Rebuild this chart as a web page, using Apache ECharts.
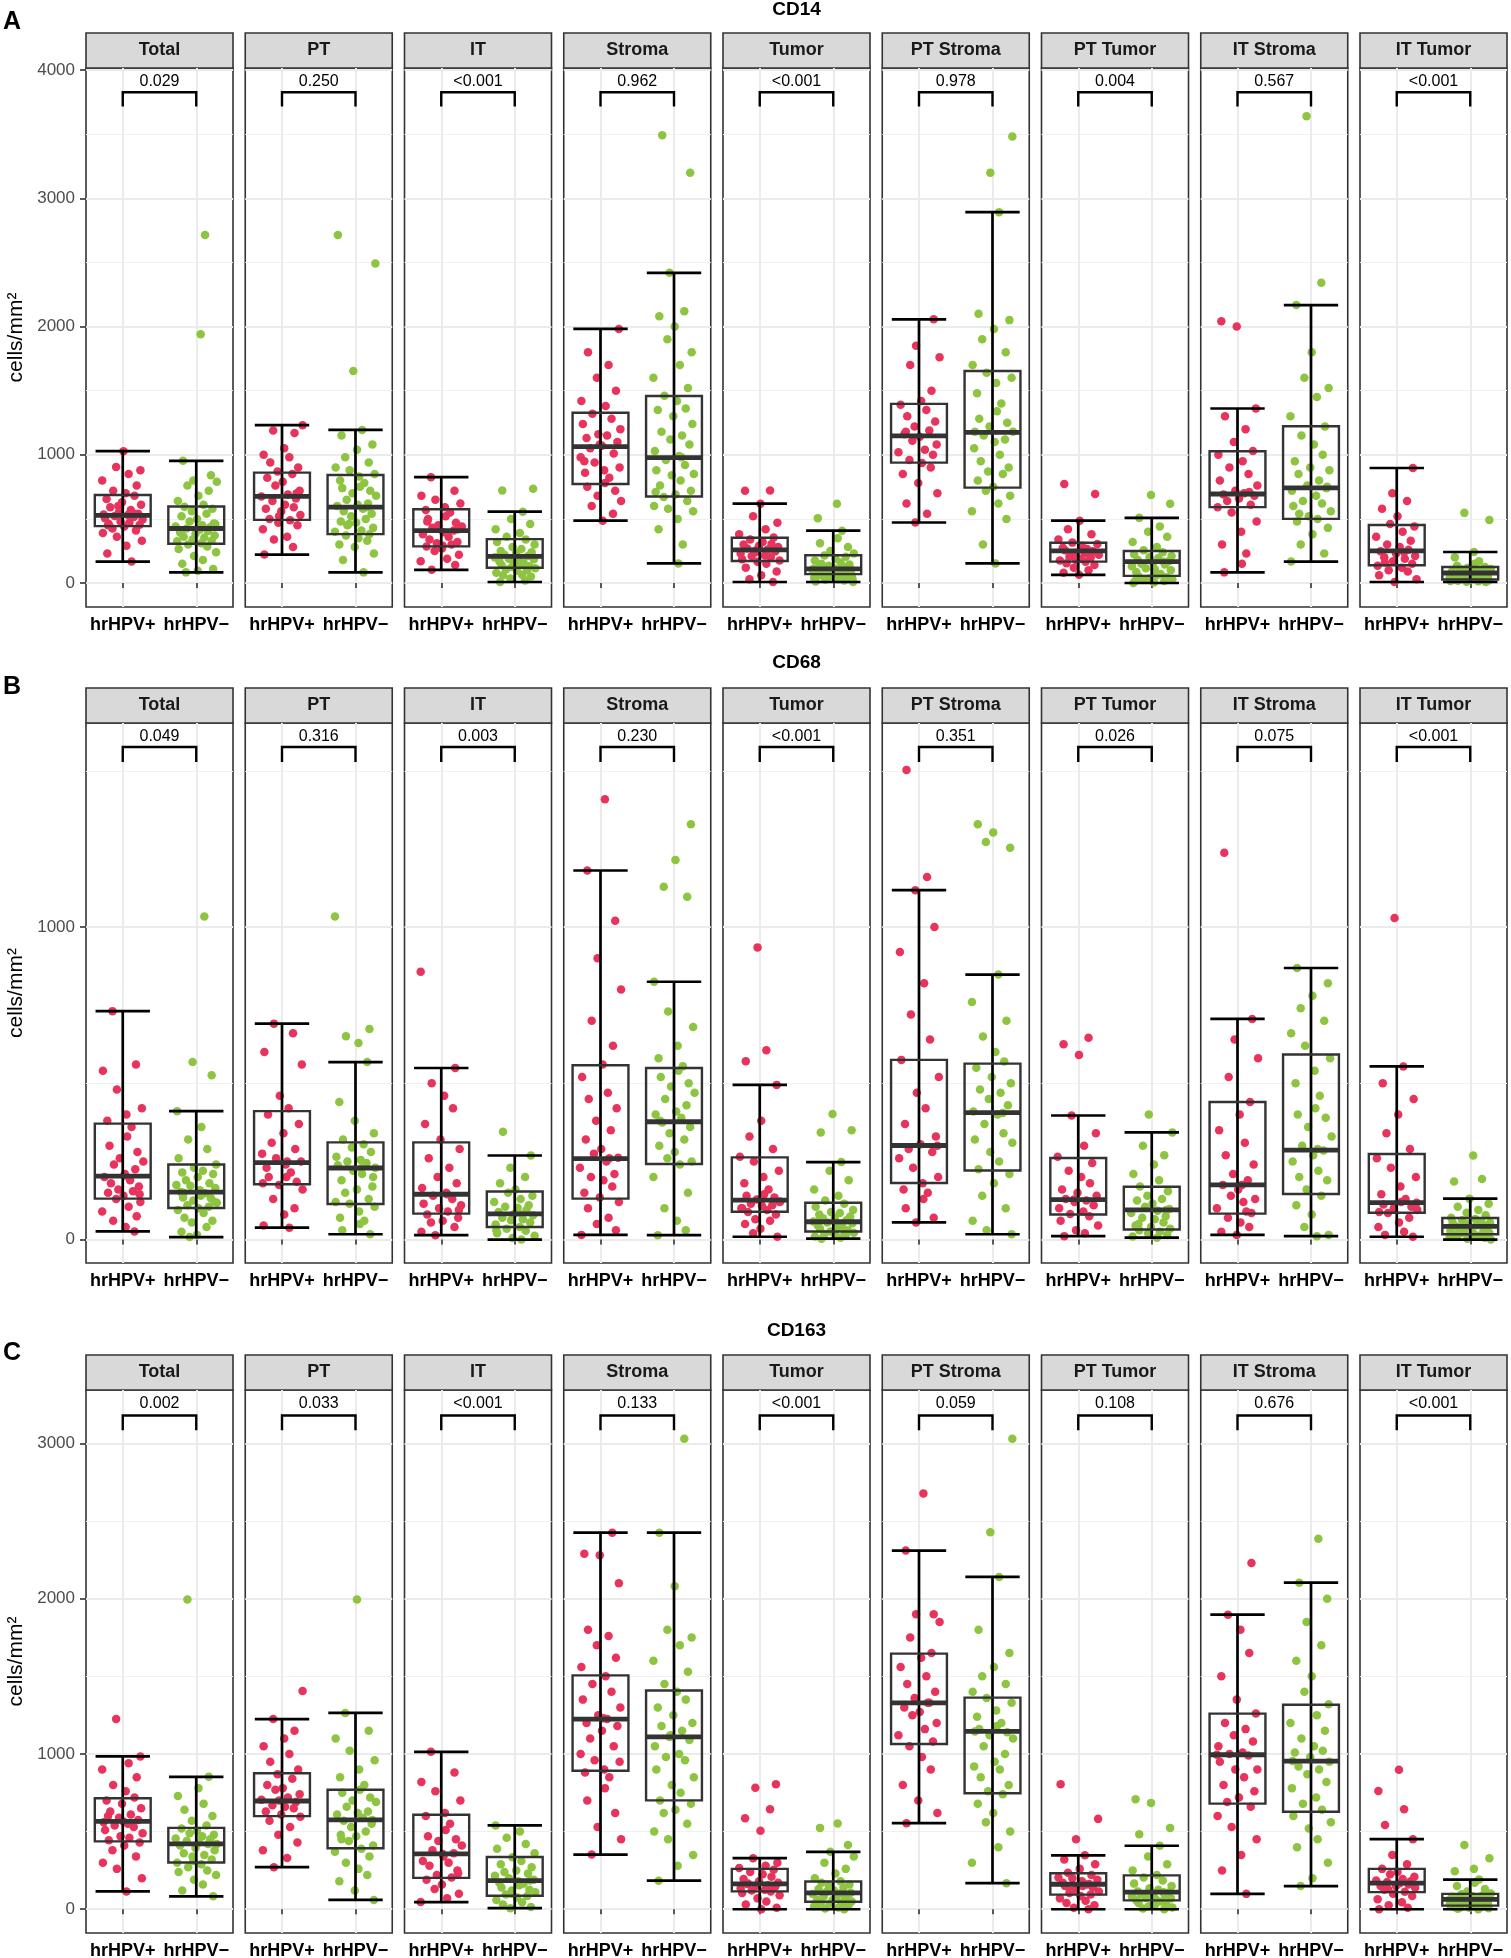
<!DOCTYPE html>
<html lang="en">
<head>
<meta charset="UTF-8">
<title>CD14 / CD68 / CD163</title>
<style>
  html, body { margin: 0; padding: 0; background: #fff; }
  #chart { width: 1511px; height: 1958px; }
</style>
</head>
<body>
<div id="chart"></div>
<script src="https://cdn.jsdelivr.net/npm/echarts@6/dist/echarts.min.js"></script>
<script>
var facets = ['Total', 'PT', 'IT', 'Stroma', 'Tumor', 'PT Stroma', 'PT Tumor', 'IT Stroma', 'IT Tumor'];
var groups = ['hrHPV+', 'hrHPV\u2212'];

// y ticks (labelled) and minor grid values
var cd14Ticks = [0, 1000, 2000, 3000, 4000];
var cd14Minor = [500, 1500, 2500, 3500];
var cd68Ticks = [0, 1000];
var cd68Minor = [500, 1500];
var cd163Ticks = [0, 1000, 2000, 3000];
var cd163Minor = [500, 1500, 2500];

// p values per facet
var cd14P = ['0.029', '0.250', '<0.001', '0.962', '<0.001', '0.978', '0.004', '0.567', '<0.001'];
var cd68P = ['0.049', '0.316', '0.003', '0.230', '<0.001', '0.351', '0.026', '0.075', '<0.001'];
var cd163P = ['0.002', '0.033', '<0.001', '0.133', '<0.001', '0.059', '0.108', '0.676', '<0.001'];

// box stats per facet: [min, q1, median, q3, max]
var cd14PosBox = [[167,444,528,686,1028],[222,492,675,861,1231],[103,286,408,575,825],[486,772,1064,1328,1981],[8,172,258,353,619],[472,939,1147,1397,2056],[64,167,250,314,486],[83,592,694,1028,1361],[8,139,250,453,897]];
var cd14NegBox = [[83,306,425,597,953],[83,381,592,842,1194],[8,119,208,342,556],[153,675,978,1458,2419],[8,69,111,217,408],[153,744,1175,1653,2892],[0,56,167,250,508],[167,500,742,1222,2167],[8,28,78,125,242]];
var cd68PosBox = [[26,131,203,371,731],[38,177,246,411,691],[14,83,145,311,549],[15,131,259,558,1181],[9,89,126,263,495],[55,181,301,575,1118],[11,80,128,261,397],[15,83,175,440,706],[9,86,118,274,554]];
var cd68NegBox = [[8,101,152,240,411],[17,114,229,311,568],[0,40,82,154,269],[14,242,377,549,825],[3,26,57,118,248],[17,221,406,563,848],[6,32,95,169,343],[11,146,286,592,869],[0,17,42,69,131]];
var cd163PosBox = [[115,437,566,715,984],[271,600,697,876,1225],[46,202,356,609,1014],[352,892,1225,1506,2425],[0,115,163,260,329],[554,1064,1329,1646,2310],[0,94,161,232,347],[99,680,995,1260,1897],[0,110,168,260,451]];
var cd163NegBox = [[83,301,421,524,853],[60,393,575,770,1264],[7,87,184,336,540],[184,701,1110,1409,2425],[0,48,106,179,370],[168,747,1145,1363,2140],[0,57,110,218,409],[149,628,954,1317,2103],[0,23,64,99,191]];

// individual points (cells/mm2) per facet
var cd14PosPts = [
  [167,230,290,330,360,390,410,425,440,455,460,470,480,495,505,515,522,530,535,540,555,570,590,610,630,655,680,700,720,760,800,850,880,905,1028,450,545,600],
  [222,280,340,360,420,450,470,490,500,530,560,580,590,610,640,660,675,690,720,760,790,820,850,870,900,940,980,1000,1050,1170,1190,1231,520,700],
  [103,140,170,190,220,250,270,285,300,310,320,340,360,380,395,410,430,440,450,470,500,520,550,570,590,620,650,680,720,825,290,420,480],
  [486,540,600,640,680,720,750,780,820,860,880,900,940,980,1010,1050,1070,1100,1130,1150,1160,1200,1240,1280,1320,1380,1420,1500,1600,1700,1800,1981,1080,950],
  [8,30,60,90,120,150,165,175,185,200,210,215,230,245,255,262,270,280,290,300,305,320,340,355,380,420,470,520,619,720,722,240,268],
  [472,540,620,700,780,850,900,935,960,1000,1020,1040,1080,1110,1140,1160,1190,1220,1260,1300,1350,1390,1420,1500,1700,1760,1850,2056,1180],
  [64,80,100,120,140,155,165,175,190,200,205,220,235,248,255,260,265,275,290,305,315,340,380,420,486,694,772,230,180],
  [83,150,230,300,400,480,550,590,610,640,660,680,690,700,720,760,800,850,900,950,1000,1030,1100,1200,1300,1361,2000,2042,710],
  [8,30,60,90,100,120,135,150,170,190,200,210,230,248,260,280,300,330,360,400,440,460,520,580,640,700,897,160,240]
];
var cd14NegPts = [
  [83,95,110,150,180,210,240,265,285,300,310,325,330,340,355,360,370,385,395,405,415,425,435,440,450,465,480,500,520,540,560,580,595,610,640,680,720,760,790,800,840,953,1939,2714,390,420,460],
  [83,180,230,280,300,330,350,370,380,400,410,430,460,470,480,500,520,540,560,580,600,610,620,650,680,700,720,740,750,780,800,830,850,880,900,940,980,1040,1080,1150,1194,1653,2492,2714,590,450],
  [8,20,35,50,60,65,80,95,100,105,115,125,130,140,150,160,170,180,185,190,200,210,220,235,240,250,265,280,300,320,340,360,390,420,460,500,556,722,736,155,205,120],
  [153,300,420,500,560,580,600,640,670,690,720,760,800,840,850,880,920,960,990,1030,1080,1120,1150,1180,1240,1300,1350,1360,1420,1460,1520,1600,1700,1800,1900,2000,2080,2120,2419,3200,3492,980,710],
  [8,12,20,25,30,40,45,50,55,60,65,70,75,80,85,90,95,98,100,105,110,115,120,125,135,145,150,160,175,190,205,215,230,250,280,310,350,408,506,619,35,72,112],
  [153,300,500,560,620,680,720,750,800,850,870,900,950,1000,1050,1100,1120,1150,1180,1220,1250,1280,1340,1400,1480,1560,1600,1640,1700,1800,1900,1980,2050,2100,2892,3200,3481,1180],
  [0,5,15,25,30,35,45,52,58,70,85,90,100,115,130,145,150,160,170,180,195,200,210,225,240,255,280,320,360,400,440,508,619,686,20,165,110],
  [167,230,300,380,430,480,500,520,560,600,620,640,680,720,740,760,800,850,880,900,950,1000,1080,1150,1220,1300,1450,1520,1600,1800,2167,2342,3639,750,540],
  [8,10,14,18,20,22,26,30,35,40,42,45,50,55,60,62,65,70,75,80,85,88,90,95,100,105,110,118,125,135,150,170,200,242,492,547,15,28,78,48]
];
var cd68PosPts = [
  [26,40,60,75,90,105,120,130,140,150,155,160,170,180,190,200,210,225,240,250,260,280,300,330,360,380,400,420,480,540,560,731,205,145],
  [38,45,80,100,130,160,175,185,200,200,215,230,240,250,260,275,290,310,340,370,400,420,460,560,600,660,691,250,180],
  [14,25,40,55,60,70,80,90,100,110,115,130,140,150,165,180,200,230,260,290,320,370,420,460,500,549,857,145,95],
  [15,30,50,70,100,120,135,150,170,190,200,210,230,250,262,275,290,320,350,380,420,450,470,520,560,620,700,800,900,1020,1181,1409,260],
  [9,20,35,50,60,65,80,88,95,100,108,110,115,122,128,135,140,145,160,180,200,220,250,265,290,330,380,495,571,606,935,120,100],
  [55,70,100,130,150,160,180,200,230,260,280,290,305,330,370,420,470,520,575,640,720,820,920,1000,1118,1160,1503,300],
  [11,20,30,45,60,75,82,90,100,110,120,125,130,140,150,160,180,200,220,245,265,300,340,397,591,625,646,128],
  [15,25,40,55,70,85,100,120,130,140,160,175,190,210,240,270,310,350,400,440,520,580,640,706,1238,175,90],
  [9,15,25,40,55,70,85,95,100,105,112,120,130,145,170,200,230,260,290,340,400,450,500,554,1029,118,88]
];
var cd68NegPts = [
  [8,15,25,40,55,60,70,85,95,100,105,110,118,125,132,135,140,148,152,158,165,172,175,180,190,200,210,215,220,230,240,260,290,320,360,411,526,568,1034,150,120],
  [17,30,50,60,70,90,105,115,120,130,150,160,170,190,210,220,230,238,245,250,255,265,280,295,305,320,340,380,440,568,629,651,674,1034,228,200],
  [0,5,12,20,28,35,40,48,55,62,65,70,78,82,88,95,102,105,110,120,130,140,150,160,180,200,230,269,345,80,30],
  [14,30,60,100,150,200,240,250,260,280,300,320,340,360,375,390,400,410,430,450,470,490,500,520,540,555,580,620,680,730,825,1097,1129,1215,1329,380],
  [3,6,10,14,15,18,22,26,30,35,40,42,45,50,52,55,58,62,68,70,74,80,85,88,95,105,115,125,140,160,190,220,248,343,350,402,57,20],
  [17,30,60,100,140,180,210,225,250,280,310,320,340,370,400,410,430,450,470,480,500,520,550,570,600,650,700,760,848,1254,1272,1303,1329,405],
  [6,10,15,20,25,30,35,40,45,55,65,70,75,85,92,98,105,115,125,130,140,155,170,190,210,240,270,300,343,400,95,50],
  [11,15,40,80,110,140,160,190,200,220,250,270,285,300,330,360,390,400,420,460,500,540,580,620,660,700,740,780,820,869,290],
  [0,3,6,9,10,12,15,18,22,26,28,30,34,38,40,42,46,50,54,55,58,62,66,70,78,86,95,105,115,131,186,194,269,20,44,8]
];
var cd163PosPts = [
  [115,200,260,300,340,380,410,430,445,460,470,490,510,530,540,550,560,575,590,610,630,650,680,700,720,760,800,850,900,940,984,1225,565,600],
  [271,330,380,430,480,530,570,595,610,630,650,660,670,690,705,720,740,770,780,800,840,870,900,950,1000,1050,1100,1150,1225,1405,700],
  [46,70,100,130,160,190,205,220,250,280,300,310,340,360,380,410,440,450,470,510,550,600,620,700,760,820,880,1014,355,230],
  [352,450,530,620,700,780,850,880,900,950,960,1000,1050,1100,1150,1180,1200,1225,1250,1300,1350,1400,1450,1500,1560,1620,1700,1760,1800,2100,2280,2290,2425,1230],
  [0,10,30,50,70,90,105,115,120,125,135,145,150,155,162,170,180,195,210,225,240,255,265,280,300,329,506,586,644,782,805,165,140],
  [554,620,700,800,900,980,1050,1080,1120,1160,1200,1250,1270,1300,1330,1360,1400,1450,1500,1560,1620,1650,1750,1850,1900,1900,2310,2678,1330],
  [0,10,25,40,55,70,85,95,105,115,125,140,150,150,160,170,180,190,200,205,220,235,260,290,320,347,451,582,805,162,120],
  [99,250,350,450,530,600,660,690,720,760,800,850,900,900,950,990,1000,1010,1050,1080,1120,1160,1200,1260,1350,1500,1650,1800,1897,2230,995],
  [0,10,25,45,65,85,100,112,125,138,150,150,160,168,175,180,185,195,210,225,240,260,290,350,451,543,644,761,899,168,130]
];
var cd163NegPts = [
  [83,120,160,190,220,240,250,270,290,300,320,340,350,360,380,395,410,420,430,440,450,455,470,480,490,505,520,540,570,600,640,680,730,780,853,1995,420,310],
  [60,120,180,220,260,300,340,370,390,410,440,470,480,500,530,550,570,590,610,620,630,660,690,700,720,750,770,800,850,900,960,1020,1100,1150,1264,1995,575,450],
  [7,15,30,45,60,75,85,95,110,120,125,140,155,165,170,180,190,200,215,230,240,250,270,290,310,335,360,390,420,460,500,540,185,100],
  [184,280,350,450,500,550,620,640,680,700,750,800,850,900,960,980,1000,1050,1090,1120,1150,1180,1200,1250,1300,1350,1400,1450,1530,1600,1700,1750,1800,2080,2425,3030,1110],
  [0,5,12,20,28,36,40,44,50,58,60,66,74,82,90,98,100,106,112,120,130,140,150,160,170,180,200,230,260,300,340,370,414,524,552,106,25],
  [168,300,400,500,560,620,680,740,760,800,850,900,920,950,1000,1050,1100,1120,1140,1160,1180,1200,1240,1280,1330,1360,1400,1450,1500,1560,1650,1800,2140,2428,3030,1145],
  [0,5,12,20,30,40,45,50,58,66,70,74,82,90,95,100,108,115,125,135,150,165,185,205,220,250,290,340,409,483,524,685,708,110,25],
  [149,200,300,400,450,520,560,600,640,680,720,780,820,870,900,920,950,980,1010,1020,1050,1100,1150,1200,1250,1320,1400,1500,1600,1700,1850,2000,2103,2386,955],
  [0,3,6,10,14,18,20,22,26,32,38,40,44,50,56,60,62,66,72,78,80,84,90,96,102,115,130,150,170,191,244,260,329,414,64,30,12]
];

// horizontal jitter offsets (category units)
var jitter = [0.12,-0.21,0.05,0.26,-0.08,-0.27,0.18,-0.14,0.02,0.23,-0.19,0.09,-0.03,0.27,-0.24,0.15,-0.11,0.07,-0.26,0.21,
  -0.05,0.11,-0.17,0.25,-0.01,-0.22,0.16,0.04,-0.13,0.19,-0.28,0.08,0.24,-0.09,0.01,-0.2,0.14,-0.06,0.22,-0.16,
  0.1,-0.25,0.03,0.17,-0.12,0.28,-0.04,0.2,-0.18,0.06];

var FONT = '"Liberation Sans", Arial, Helvetica, sans-serif';
var RED = '#E8335C';
var GREEN = '#8DC540';
var PANEL_LEFT = 86, PANEL_W = 147, PANEL_STEP = 159.25, STRIP_H = 35;
var BOX_HALF = 0.38, CAP_HALF = 0.37;

// layout per row; bracket = [leg bottom, bar, text] in data units
var rows = [
  { title: 'CD14', letter: 'A', top: 68, height: 539, min: -187, max: 4016, titleY: 10, letterY: 22,
    ticks: cd14Ticks, minor: cd14Minor, bracket: [3716, 3827, 3911],
    pos: cd14PosBox, neg: cd14NegBox, posPts: cd14PosPts, negPts: cd14NegPts, p: cd14P },
  { title: 'CD68', letter: 'B', top: 723, height: 540, min: -75, max: 1653, titleY: 663, letterY: 687,
    ticks: cd68Ticks, minor: cd68Minor, bracket: [1528, 1576, 1611],
    pos: cd68PosBox, neg: cd68NegBox, posPts: cd68PosPts, negPts: cd68NegPts, p: cd68P },
  { title: 'CD163', letter: 'C', top: 1390, height: 543, min: -153, max: 3344, titleY: 1331, letterY: 1353,
    ticks: cd163Ticks, minor: cd163Minor, bracket: [3084, 3180, 3254],
    pos: cd163PosBox, neg: cd163NegBox, posPts: cd163PosPts, negPts: cd163NegPts, p: cd163P }
];

function renderBox(params, api) {
  var x = api.value(0);
  var pMin = api.coord([x, api.value(1)]);
  var pMax = api.coord([x, api.value(5)]);
  var a = api.coord([x - BOX_HALF, api.value(4)]);
  var b = api.coord([x + BOX_HALF, api.value(2)]);
  var m = api.coord([x, api.value(3)]);
  var capL = api.coord([x - CAP_HALF, 0])[0];
  var capR = api.coord([x + CAP_HALF, 0])[0];
  var wStyle = { stroke: '#000', lineWidth: 2.7 };
  return {
    type: 'group',
    children: [
      { type: 'line', shape: { x1: pMin[0], y1: pMin[1], x2: pMax[0], y2: pMax[1] }, style: wStyle },
      { type: 'line', shape: { x1: capL, y1: pMin[1], x2: capR, y2: pMin[1] }, style: wStyle },
      { type: 'line', shape: { x1: capL, y1: pMax[1], x2: capR, y2: pMax[1] }, style: wStyle },
      { type: 'rect', shape: { x: a[0], y: a[1], width: b[0] - a[0], height: b[1] - a[1] },
        style: { fill: 'transparent', stroke: '#333', lineWidth: 2.4 } },
      { type: 'line', shape: { x1: a[0], y1: m[1], x2: b[0], y2: m[1] }, style: { stroke: '#333', lineWidth: 4.8 } }
    ]
  };
}

function bracketRenderer(row, label) {
  return function (params, api) {
    var l0 = api.coord([0.5, row.bracket[0]]);
    var l1 = api.coord([0.5, row.bracket[1]]);
    var r1 = api.coord([1.5, row.bracket[1]]);
    var r0 = api.coord([1.5, row.bracket[0]]);
    var t = api.coord([1, row.bracket[2]]);
    return {
      type: 'group',
      children: [
        { type: 'polyline', shape: { points: [l0, l1, r1, r0] }, style: { stroke: '#000', lineWidth: 2.4, fill: null } },
        { type: 'text', x: t[0], y: t[1],
          style: { text: label, fontSize: 16, fontFamily: FONT, fill: '#000', align: 'center', verticalAlign: 'middle' } }
      ]
    };
  };
}

var grids = [], xAxes = [], yAxes = [], series = [], graphics = [];

rows.forEach(function (row, r) {
  graphics.push({ type: 'text', x: PANEL_LEFT + (8 * PANEL_STEP + PANEL_W) / 2, y: row.titleY,
    style: { text: row.title, fontSize: 19, fontWeight: 'bold', fontFamily: FONT, fill: '#000', align: 'center', verticalAlign: 'middle' } });
  graphics.push({ type: 'text', x: 3, y: row.letterY,
    style: { text: row.letter, fontSize: 25, fontWeight: 'bold', fontFamily: FONT, fill: '#000', align: 'left', verticalAlign: 'middle' } });
  graphics.push({ type: 'text', x: 16, y: row.top + row.height / 2, rotation: Math.PI / 2,
    style: { text: 'cells/mm\u00B2', fontSize: 21, fontFamily: FONT, fill: '#000', align: 'center', verticalAlign: 'middle' } });

  facets.forEach(function (name, c) {
    var g = r * 9 + c;
    var left = PANEL_LEFT + c * PANEL_STEP;
    var first = c === 0;

    grids.push({ left: left, top: row.top, width: PANEL_W, height: row.height, show: true,
      backgroundColor: '#fff', borderColor: '#333', borderWidth: 1.6, containLabel: false, outerBoundsMode: 'none' });

    xAxes.push({
      gridIndex: g, type: 'value', min: 0, max: 2,
      axisLine: { show: false },
      axisTick: { show: true, customValues: [0.5, 1.5], length: 5, lineStyle: { color: '#333', width: 1.6 } },
      axisLabel: { show: true, customValues: [0.5, 1.5], margin: 9, fontSize: 18, fontWeight: 'bold', fontFamily: FONT, color: '#000',
        formatter: function (v) { return v < 1 ? groups[0] : groups[1]; } },
      splitLine: { show: true, lineStyle: { color: '#EBEBEB', width: 2 } }
    });

    yAxes.push({
      gridIndex: g, type: 'value', position: 'left', min: row.min, max: row.max,
      axisLine: { show: false },
      axisTick: { show: first, customValues: row.ticks, length: 6, lineStyle: { color: '#333', width: 1.6 } },
      axisLabel: { show: first, customValues: row.ticks, margin: 11, fontSize: 17, fontFamily: FONT, color: '#4D4D4D',
        formatter: function (v) { return String(v); } },
      splitLine: { show: true, lineStyle: { color: '#EBEBEB', width: 2 } }
    });
    yAxes.push({
      gridIndex: g, type: 'value', position: 'left', min: row.min, max: row.max,
      axisLine: { show: false },
      axisTick: { show: false, customValues: row.minor },
      axisLabel: { show: false, customValues: row.minor },
      splitLine: { show: true, lineStyle: { color: '#F0F0F0', width: 1.2 } }
    });

    // strip
    graphics.push({ type: 'rect', shape: { x: left, y: row.top - STRIP_H, width: PANEL_W, height: STRIP_H },
      style: { fill: '#D9D9D9', stroke: '#333', lineWidth: 1.6 } });
    graphics.push({ type: 'text', x: left + PANEL_W / 2, y: row.top - STRIP_H / 2,
      style: { text: name, fontSize: 18, fontWeight: 'bold', fontFamily: FONT, fill: '#1A1A1A', align: 'center', verticalAlign: 'middle' } });

    [[row.posPts[c], 0.5, RED], [row.negPts[c], 1.5, GREEN]].forEach(function (grp, k) {
      var seed = ((g * 2 + k) * 7) % jitter.length;
      series.push({
        type: 'scatter', xAxisIndex: g, yAxisIndex: 2 * g, silent: true, z: 2, animation: false,
        symbolSize: 8.5, itemStyle: { color: grp[2], opacity: 1 },
        data: grp[0].map(function (v, i) { return [grp[1] + jitter[(i + seed) % jitter.length], v]; })
      });
    });

    series.push({
      type: 'custom', xAxisIndex: g, yAxisIndex: 2 * g, silent: true, z: 3, animation: false,
      renderItem: renderBox, encode: { x: 0, y: [1, 2, 3, 4, 5] },
      data: [[0.5].concat(row.pos[c]), [1.5].concat(row.neg[c])]
    });

    series.push({
      type: 'custom', xAxisIndex: g, yAxisIndex: 2 * g, silent: true, z: 3, animation: false,
      renderItem: bracketRenderer(row, row.p[c]), data: [[1, row.bracket[1]]]
    });
  });
});

var chart = echarts.init(document.getElementById('chart'), null, { renderer: 'canvas' });
chart.setOption({
  backgroundColor: '#fff',
  animation: false,
  textStyle: { fontFamily: FONT },
  grid: grids,
  xAxis: xAxes,
  yAxis: yAxes,
  series: series,
  graphic: graphics
});
</script>
</body>
</html>
